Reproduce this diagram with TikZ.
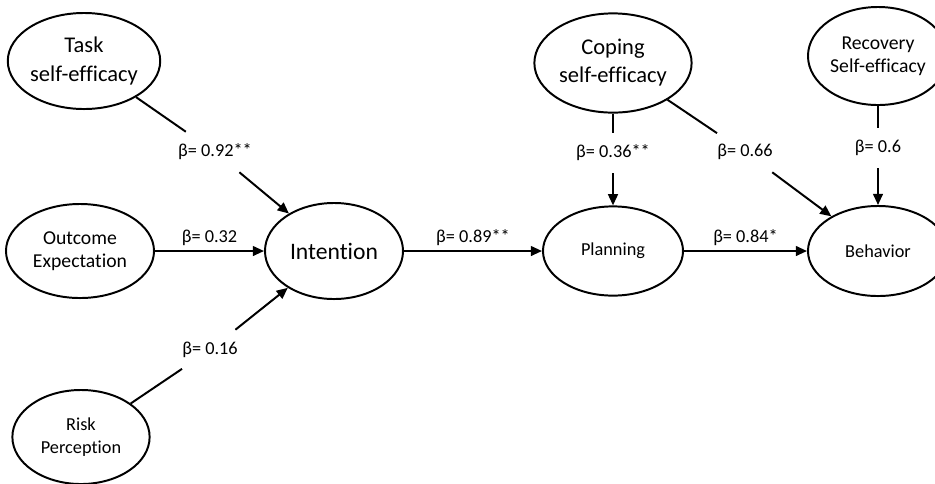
\documentclass[tikz,border=0pt]{standalone}
\usepackage{fontspec}
\setmainfont{Carlito}[Ligatures=NoCommon]
\usepackage{tikz}
\usetikzlibrary{positioning,arrows.meta,shapes.geometric}
\newcommand{\nodefontbig}{\fontsize{16}{20}\selectfont}
\newcommand{\nodefontmid}{\fontsize{14}{16.5}\selectfont}
\newcommand{\nodefontsmall}{\fontsize{13}{16}\selectfont}

\begin{document}
\begin{tikzpicture}[x=0.025cm,y=-0.025cm,
  construct/.style={ellipse,draw,line width=1.4pt,inner sep=0pt,align=center,font=\nodefontsmall},
  midconstruct/.style={construct,font=\nodefontmid},
  bigconstruct/.style={construct,font=\nodefontbig},
  coef/.style={font=\nodefontsmall,inner sep=0pt,minimum height=1.0cm},
  coefabove/.style={font=\nodefontsmall,above,inner sep=3pt},
  link/.style={line width=1.4pt},
  path/.style={link,-{Triangle[length=8pt,width=7pt]}}]
\clip (0,0) rectangle (935,483);
\fill[white] (0,0) rectangle (935,483);

% constructs
\node[bigconstruct,minimum width=3.45cm,minimum height=2.4cm] (task) at (84,61) {Task\\self-efficacy};
\node[midconstruct,minimum width=3.7cm,minimum height=2.35cm] (outcome) at (80,251) {Outcome\\Expectation};
\node[bigconstruct,font=\fontsize{16.8}{20}\selectfont,minimum width=3.45cm,minimum height=2.4cm] (intention) at (334,251) {Intention};
\node[construct,minimum width=3.43cm,minimum height=2.35cm] (risk) at (81,437) {Risk\\Perception};
\node[bigconstruct,minimum width=3.93cm,minimum height=2.48cm] (coping) at (613,63) {Coping\\self-efficacy};
\node[midconstruct,minimum width=3.5cm,minimum height=2.45cm] (recovery) at (878,56) {Recovery\\Self-efficacy};
\node[construct,minimum width=3.5cm,minimum height=2.23cm] (planning) at (613,251) {Planning};
\node[construct,minimum width=3.5cm,minimum height=2.25cm] (behavior) at (878,251) {Behavior};

% coefficients that break a path
\node[coef] (l92) at (215,152) {β= 0.92**};
\node[coef] (l16) at (210,350) {β= 0.16};
\node[coef] (l36) at (613,153) {β= 0.36**};
\node[coef] (l66) at (745,152) {β= 0.66};
\node[coef] (l6) at (878,148) {β= 0.6};

% paths
\draw[link] (task) -- (l92);
\draw[path] (l92) -- (intention);
\draw[path] (outcome) -- node[coefabove] {β= 0.32} (intention);
\draw[link] (risk) -- (l16);
\draw[path] (l16) -- (intention);
\draw[path] (intention) -- node[coefabove] {β= 0.89**} (planning);
\draw[path] (planning) -- node[coefabove] {β= 0.84*} (behavior);
\draw[link] (coping) -- (l36);
\draw[path] (l36) -- (planning);
\draw[link] (coping) -- (l66);
\draw[path] (l66) -- (behavior);
\draw[link] (recovery) -- (l6);
\draw[path] (l6) -- (behavior);
\end{tikzpicture}
\end{document}
